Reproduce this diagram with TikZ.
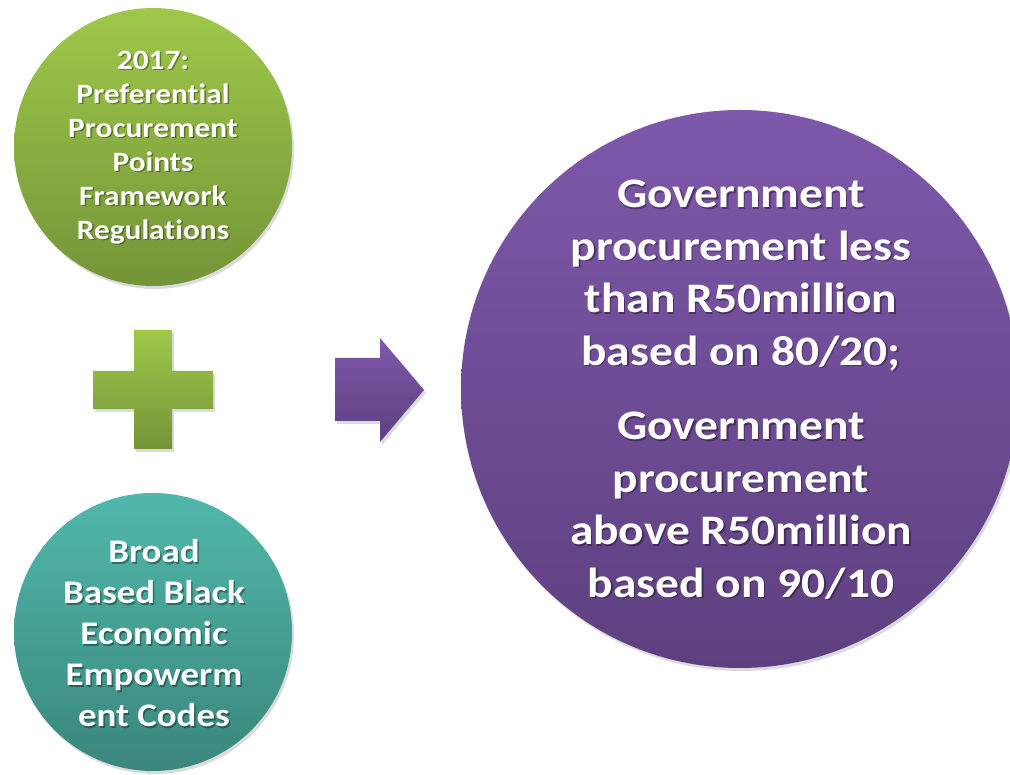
\documentclass[tikz,border=0pt]{standalone}
\usepackage{fontspec}
\setmainfont{Carlito}[Ligatures=NoCommon]
\newfontfamily\gfont{Carlito}[Ligatures=NoCommon, FakeStretch=1.12]
\newfontfamily\pfont{Carlito}[Ligatures=NoCommon, FakeStretch=1.13]
\usetikzlibrary{shadows}
\definecolor{gtop}{RGB}{159,200,74}
\definecolor{gbot}{RGB}{116,148,56}
\definecolor{ttop}{RGB}{80,184,170}
\definecolor{tbot}{RGB}{58,134,124}
\definecolor{ptop}{RGB}{126,88,170}
\definecolor{pbot}{RGB}{94,64,128}
\tikzset{
  x=1pt, y=1pt,
  ball/.style={circle, inner sep=0pt, draw=none},
  greenfill/.style={top color=gtop, bottom color=gbot},
  tealfill/.style={top color=ttop, bottom color=tbot},
  purplefill/.style={top color=ptop, bottom color=pbot},
  softshadow/.style={drop shadow={shadow xshift=2pt, shadow yshift=-3pt, opacity=0.14, fill=black}},
  txt/.style={align=center, text=white},
  txtshadow/.style={align=center, text=black, text opacity=0.35},
  gsize/.style={font=\gfont\bfseries\fontsize{28}{34}\selectfont},
  tsize/.style={font=\gfont\bfseries\fontsize{33}{41}\selectfont},
  psize/.style={font=\pfont\bfseries\fontsize{42}{52.5}\selectfont},
}
\begin{document}
\begin{tikzpicture}
\useasboundingbox (0,0) rectangle (1010,775);
\clip (0,0) rectangle (1010,775);
% circles
\node[ball, greenfill, softshadow, minimum size=278pt] (green) at (153,628) {};
\node[ball, tealfill, softshadow, minimum size=278pt] (teal) at (153,143) {};
\node[ball, purplefill, softshadow, minimum size=558pt] (purple) at (740,386) {};
% plus sign
\path[greenfill, softshadow]
  (134,445) -- (172,445) -- (172,404) -- (213,404) -- (213,366) -- (172,366)
  -- (172,326) -- (134,326) -- (134,366) -- (93,366) -- (93,404) -- (134,404) -- cycle;
% arrow
\path[purplefill, softshadow]
  (335,417) -- (380,417) -- (380,437) -- (424,385) -- (380,333) -- (380,354) -- (335,354) -- cycle;
% texts
\def\gtext{2017:\\Preferential\\Procurement\\Points\\Framework\\Regulations}
\def\ttext{Broad\\Based Black\\Economic\\Empowerm\\ent Codes}
\def\ptext{Government\\procurement less\\than R50million\\based on 80/20;\\[22pt]Government\\procurement\\above R50million\\based on 90/10}
\node[txtshadow, gsize] (gs) at (154.5,626) {\gtext};
\node[txt, gsize] (gt) at (153,627.5) {\gtext};
\node[txtshadow, tsize] (ts) at (155.5,140) {\ttext};
\node[txt, tsize] (tt) at (154,141.5) {\ttext};
\node[txtshadow, psize] (ps) at (742.5,384) {\ptext};
\node[txt, psize] (pt) at (741,385.5) {\ptext};
\end{tikzpicture}
\end{document}
